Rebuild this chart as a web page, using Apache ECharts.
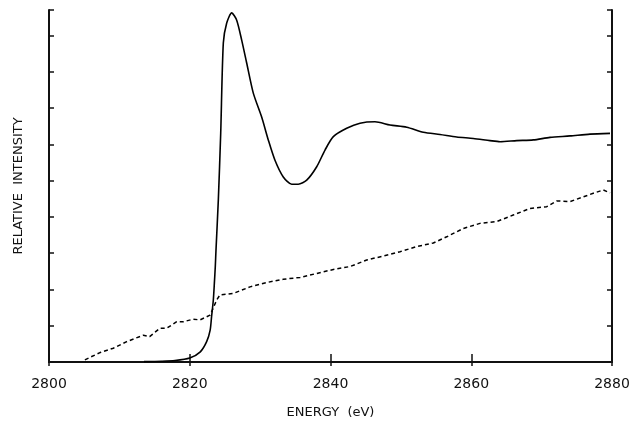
<!DOCTYPE html>
<html>
<head>
<meta charset="utf-8">
<script src="https://cdn.jsdelivr.net/npm/echarts@6/dist/echarts.min.js"></script>
<style>html,body{margin:0;padding:0;background:#fff;}#c{width:634px;height:431px;}</style>
</head>
<body>
<div id="c"></div>
<script>
var xTicks = [2800, 2820, 2840, 2860, 2880];
var energySolid = [2813.5, 2816, 2817.9, 2820.0, 2821.5, 2822.4, 2822.9, 2823.1, 2823.35, 2823.5, 2823.63, 2823.73, 2824.06, 2824.4, 2824.77, 2825.25, 2825.96, 2826.67, 2827.38, 2828.09, 2829.03, 2830.22, 2831.16, 2832.11, 2833.29, 2834.49, 2835.42, 2836.62, 2838.04, 2839.22, 2840.4, 2842.3, 2844.19, 2846.32, 2848.45, 2850.83, 2853.19, 2855.56, 2857.93, 2860.29, 2862.66, 2864.09, 2866.46, 2868.82, 2871.19, 2874.03, 2876.87, 2879.72];
var intensitySolid = [0.01, 0.02, 0.04, 0.11, 0.28, 0.56, 0.88, 1.25, 1.71, 2.18, 2.63, 3.09, 4.46, 6.31, 8.79, 9.34, 9.62, 9.42, 8.87, 8.24, 7.41, 6.75, 6.12, 5.56, 5.10, 4.90, 4.90, 5.01, 5.38, 5.84, 6.21, 6.44, 6.58, 6.62, 6.53, 6.47, 6.33, 6.27, 6.20, 6.16, 6.10, 6.07, 6.10, 6.12, 6.19, 6.23, 6.28, 6.30];
var energyDashed = [2805.1, 2807.25, 2809.14, 2811.04, 2813.4, 2814.3, 2815.77, 2816.72, 2818.15, 2819.08, 2820.5, 2821.46, 2822.88, 2823.12, 2823.83, 2824.3, 2826.19, 2828.56, 2830.93, 2833.29, 2835.67, 2838.04, 2840.4, 2842.77, 2845.14, 2847.5, 2849.88, 2852.25, 2854.61, 2856.51, 2858.87, 2861.24, 2863.62, 2865.97, 2868.35, 2870.72, 2872.14, 2874.03, 2875.92, 2877.34, 2878.76, 2879.72];
var intensityDashed = [0.06, 0.26, 0.38, 0.56, 0.74, 0.70, 0.93, 0.93, 1.11, 1.11, 1.18, 1.16, 1.29, 1.39, 1.71, 1.85, 1.89, 2.07, 2.19, 2.28, 2.33, 2.44, 2.55, 2.63, 2.81, 2.92, 3.04, 3.18, 3.28, 3.45, 3.68, 3.82, 3.87, 4.05, 4.23, 4.28, 4.44, 4.42, 4.55, 4.65, 4.74, 4.66];

function pairs(xs, ys) { return xs.map(function (x, i) { return [x, ys[i]]; }); }

var chart = echarts.init(document.getElementById('c'), null, {renderer: 'canvas'});
var axisColor = '#111';
var font = 'DejaVu Sans, Liberation Sans, sans-serif';
chart.setOption({
  animation: false,
  backgroundColor: '#fff',
  grid: {left: 49, right: 22, top: 10, bottom: 69, containLabel: false},
  xAxis: [{
    type: 'value', min: 2800, max: 2880, interval: 20,
    name: 'ENERGY  (eV)', nameLocation: 'middle', nameGap: 44,
    nameTextStyle: {color: axisColor, fontSize: 13, fontFamily: font},
    axisLine: {show: true, lineStyle: {color: axisColor, width: 2}},
    axisTick: {show: true, inside: true, length: 8, lineStyle: {color: axisColor, width: 1.5}},
    axisLabel: {color: axisColor, fontSize: 14, fontFamily: font, margin: 15,
      formatter: function (v) { return xTicks.indexOf(v) >= 0 ? String(v) : ''; }},
    splitLine: {show: false}
  }, {
    type: 'value', min: 2800, max: 2880, interval: 20, position: 'top',
    axisLine: {show: true, lineStyle: {color: axisColor, width: 2}},
    axisTick: {show: true, inside: true, length: 4, lineStyle: {color: axisColor, width: 1.5}},
    axisLabel: {show: false}, splitLine: {show: false}
  }],
  yAxis: [{
    type: 'value', min: 0, max: 9.7, interval: 1,
    name: 'RELATIVE  INTENSITY', nameLocation: 'middle', nameGap: 24, nameRotate: 90,
    nameTextStyle: {color: axisColor, fontSize: 13, fontFamily: font},
    axisLine: {show: true, lineStyle: {color: axisColor, width: 2}},
    axisTick: {show: true, inside: true, length: 5, lineStyle: {color: axisColor, width: 1.5}},
    axisLabel: {show: false}, splitLine: {show: false}
  }, {
    type: 'value', min: 0, max: 9.7, interval: 1, position: 'right',
    axisLine: {show: true, lineStyle: {color: axisColor, width: 2}},
    axisTick: {show: true, inside: true, length: 5, lineStyle: {color: axisColor, width: 1.5}},
    axisLabel: {show: false}, splitLine: {show: false}
  }],
  series: [{
    type: 'line', data: pairs(energySolid, intensitySolid), showSymbol: false, symbol: 'none',
    smooth: 0.25, clip: true,
    lineStyle: {color: '#000', width: 1.6}
  }, {
    type: 'line', data: pairs(energyDashed, intensityDashed), showSymbol: false, symbol: 'none',
    smooth: false, clip: true,
    lineStyle: {color: '#000', width: 1.5, type: [4, 3]}
  }]
});
</script>
</body>
</html>
